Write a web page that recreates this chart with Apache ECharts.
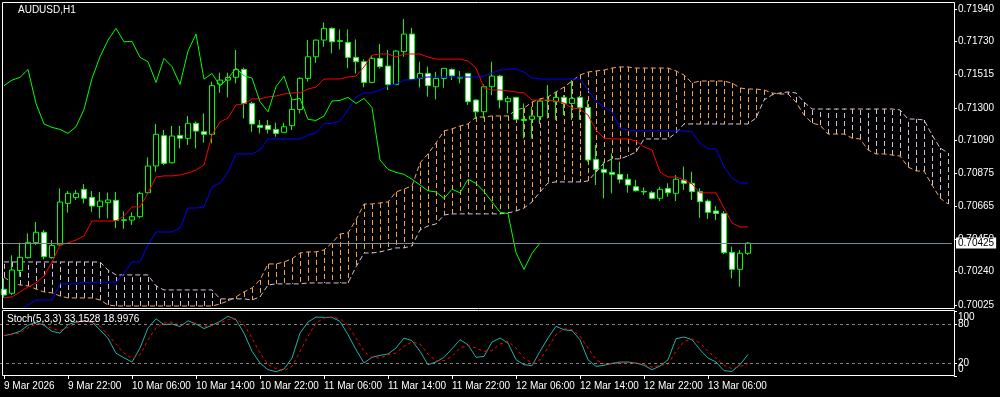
<!DOCTYPE html>
<html><head><meta charset="utf-8">
<script src="https://cdn.jsdelivr.net/npm/echarts@6/dist/echarts.min.js"></script>
<style>html,body{margin:0;padding:0;background:#000;}#c{width:1000px;height:397px;}</style>
</head><body><div id="c"></div>
<script>
const symbolTitle = 'AUDUSD,H1';
const timeTickLabels = ['9 Mar 2026','9 Mar 22:00','10 Mar 06:00','10 Mar 14:00','10 Mar 22:00','11 Mar 06:00','11 Mar 14:00','11 Mar 22:00','12 Mar 06:00','12 Mar 14:00','12 Mar 22:00','13 Mar 06:00'];
const priceTicks = [0.71940,0.71730,0.71515,0.71300,0.71090,0.70875,0.70665,0.70450,0.70240,0.70025];
const stochLevelTicks = [20,80];
const stochRangeTicks = [0,100];

const opens = [0.70126,0.70100,0.70247,0.70331,0.70428,0.70495,0.70331,0.70413,0.70682,0.70719,
0.70773,0.70721,0.70661,0.70687,0.70702,0.70572,0.70574,0.70596,0.70751,0.70924,
0.71120,0.70945,0.71122,0.71103,0.71200,0.71146,0.71129,0.71454,0.71480,0.71498,
0.71549,0.71329,0.71187,0.71187,0.71161,0.71142,0.71185,0.71290,0.71491,0.71631,
0.71739,0.71815,0.71735,0.71724,0.71627,0.71599,0.71465,0.71621,0.71571,0.71452,
0.71664,0.71778,0.71491,0.71523,0.71437,0.71491,0.71549,0.71498,0.71523,0.71351,
0.71275,0.71437,0.71506,0.71340,0.71368,0.71226,0.71226,0.71243,0.71347,0.71340,
0.71368,0.71329,0.71368,0.71303,0.70967,0.70902,0.70883,0.70870,0.70838,0.70790,
0.70760,0.70751,0.70715,0.70779,0.70747,0.70833,0.70812,0.70758,0.70697,0.70633,
0.70617,0.70365,0.70255,0.70359];
const highs = [0.70197,0.70346,0.70428,0.70488,0.70562,0.70510,0.70445,0.70779,0.70762,0.70769,
0.70807,0.70762,0.70756,0.70753,0.70756,0.70630,0.70624,0.70758,0.70980,0.71196,
0.71157,0.71183,0.71183,0.71247,0.71211,0.71265,0.71470,0.71528,0.71528,0.71675,
0.71560,0.71340,0.71222,0.71222,0.71204,0.71204,0.71355,0.71498,0.71739,0.71743,
0.71853,0.71821,0.71808,0.71808,0.71743,0.71614,0.71642,0.71713,0.71675,0.71675,
0.71875,0.71817,0.71599,0.71567,0.71534,0.71556,0.71556,0.71539,0.71528,0.71355,
0.71452,0.71599,0.71513,0.71377,0.71372,0.71329,0.71308,0.71351,0.71448,0.71405,
0.71383,0.71480,0.71377,0.71351,0.71060,0.70952,0.71006,0.70952,0.70872,0.70833,
0.70786,0.70762,0.70790,0.70812,0.70866,0.70920,0.70887,0.70779,0.70708,0.70665,
0.70633,0.70402,0.70380,0.70432];
const lows = [0.70072,0.70089,0.70208,0.70324,0.70413,0.70320,0.70324,0.70406,0.70622,0.70704,
0.70682,0.70628,0.70585,0.70585,0.70523,0.70518,0.70542,0.70585,0.70743,0.70887,
0.70930,0.70941,0.71038,0.71060,0.71038,0.71075,0.71071,0.71398,0.71368,0.71459,
0.71232,0.71146,0.71135,0.71135,0.71114,0.71140,0.71157,0.71265,0.71470,0.71592,
0.71696,0.71653,0.71679,0.71556,0.71523,0.71433,0.71459,0.71556,0.71416,0.71452,
0.71631,0.71480,0.71433,0.71372,0.71355,0.71431,0.71480,0.71459,0.71319,0.71228,
0.71232,0.71383,0.71297,0.71265,0.71222,0.71103,0.71103,0.71196,0.71232,0.71222,
0.71254,0.71222,0.71222,0.70952,0.70801,0.70715,0.70747,0.70812,0.70751,0.70758,
0.70736,0.70708,0.70697,0.70725,0.70697,0.70769,0.70704,0.70589,0.70581,0.70574,
0.70354,0.70197,0.70143,0.70348];
const closes = [0.70089,0.70251,0.70333,0.70430,0.70495,0.70337,0.70410,0.70691,0.70747,0.70747,
0.70715,0.70665,0.70697,0.70704,0.70572,0.70576,0.70596,0.70747,0.70924,0.71129,
0.70941,0.71118,0.71103,0.71200,0.71150,0.71129,0.71444,0.71480,0.71498,0.71549,
0.71329,0.71196,0.71174,0.71161,0.71135,0.71178,0.71290,0.71491,0.71631,0.71739,
0.71815,0.71728,0.71731,0.71627,0.71599,0.71465,0.71621,0.71567,0.71452,0.71668,
0.71778,0.71486,0.71523,0.71444,0.71491,0.71556,0.71508,0.71493,0.71340,0.71275,
0.71437,0.71506,0.71351,0.71362,0.71226,0.71219,0.71247,0.71344,0.71349,0.71368,
0.71329,0.71362,0.71303,0.70963,0.70902,0.70883,0.70870,0.70838,0.70801,0.70764,
0.70756,0.70715,0.70773,0.70751,0.70838,0.70812,0.70758,0.70693,0.70624,0.70617,
0.70363,0.70255,0.70359,0.70425];

const tenkan = [0.70070,0.70077,0.70109,0.70141,0.70167,0.70212,0.70303,0.70413,0.70426,0.70445,
0.70471,0.70568,0.70568,0.70568,0.70568,0.70601,0.70659,0.70659,0.70750,0.70853,
0.70860,0.70860,0.70866,0.70879,0.70898,0.70931,0.71125,0.71209,0.71235,0.71319,
0.71325,0.71358,0.71358,0.71371,0.71377,0.71390,0.71397,0.71397,0.71422,0.71435,
0.71487,0.71487,0.71487,0.71500,0.71506,0.71565,0.71642,0.71649,0.71649,0.71629,
0.71649,0.71649,0.71649,0.71629,0.71616,0.71616,0.71616,0.71616,0.71604,0.71558,
0.71429,0.71416,0.71416,0.71410,0.71403,0.71397,0.71351,0.71351,0.71351,0.71345,
0.71332,0.71299,0.71293,0.71254,0.71157,0.71105,0.71099,0.71099,0.71099,0.71086,
0.71047,0.71028,0.70885,0.70853,0.70853,0.70834,0.70808,0.70750,0.70750,0.70750,
0.70652,0.70555,0.70530,0.70530];
const kijun = [0.69970,0.69985,0.69993,0.70025,0.70057,0.70057,0.70057,0.70161,0.70161,0.70161,
0.70172,0.70172,0.70172,0.70172,0.70172,0.70232,0.70303,0.70303,0.70413,0.70497,
0.70497,0.70497,0.70523,0.70652,0.70652,0.70659,0.70788,0.70814,0.70885,0.71002,
0.71002,0.71002,0.71028,0.71099,0.71099,0.71099,0.71099,0.71099,0.71125,0.71138,
0.71196,0.71202,0.71215,0.71287,0.71371,0.71397,0.71397,0.71416,0.71442,0.71455,
0.71481,0.71481,0.71494,0.71500,0.71500,0.71500,0.71500,0.71500,0.71500,0.71500,
0.71506,0.71526,0.71545,0.71552,0.71552,0.71532,0.71494,0.71487,0.71487,0.71487,
0.71487,0.71487,0.71487,0.71416,0.71345,0.71306,0.71274,0.71170,0.71157,0.71151,
0.71151,0.71151,0.71151,0.71151,0.71151,0.71151,0.71144,0.71073,0.71034,0.71034,
0.70918,0.70847,0.70814,0.70814];
const senkouA = [0.70206,0.70167,0.70154,0.70148,0.70128,0.70109,0.70103,0.70083,0.70070,0.70070,
0.70070,0.70070,0.70057,0.70025,0.70018,0.70018,0.70018,0.70018,0.70018,0.70018,
0.70018,0.70018,0.70018,0.70018,0.70018,0.70018,0.70018,0.70031,0.70051,0.70077,
0.70109,0.70135,0.70187,0.70290,0.70290,0.70303,0.70323,0.70361,0.70368,0.70368,
0.70381,0.70426,0.70484,0.70491,0.70575,0.70678,0.70678,0.70685,0.70691,0.70756,
0.70775,0.70795,0.70944,0.71002,0.71073,0.71151,0.71164,0.71183,0.71196,0.71241,
0.71241,0.71248,0.71248,0.71248,0.71287,0.71299,0.71338,0.71358,0.71371,0.71403,
0.71435,0.71474,0.71513,0.71532,0.71539,0.71545,0.71558,0.71565,0.71565,0.71558,
0.71558,0.71558,0.71558,0.71558,0.71539,0.71513,0.71461,0.71474,0.71474,0.71474,
0.71474,0.71461,0.71429,0.71422,0.71422,0.71416,0.71397,0.71390,0.71390,0.71338,
0.71254,0.71202,0.71189,0.71131,0.71131,0.71131,0.71105,0.71099,0.71028,0.71002,
0.71002,0.70995,0.70989,0.70918,0.70892,0.70892,0.70801,0.70717,0.70678];
const senkouB = [0.70303,0.70303,0.70303,0.70303,0.70303,0.70303,0.70303,0.70303,0.70303,0.70303,
0.70303,0.70303,0.70303,0.70251,0.70219,0.70219,0.70219,0.70219,0.70219,0.70148,
0.70122,0.70122,0.70122,0.70122,0.70122,0.70122,0.70122,0.70064,0.70064,0.70064,
0.70064,0.70057,0.70077,0.70154,0.70161,0.70161,0.70161,0.70161,0.70167,0.70167,
0.70167,0.70167,0.70167,0.70167,0.70271,0.70361,0.70361,0.70368,0.70381,0.70394,
0.70394,0.70407,0.70510,0.70536,0.70549,0.70607,0.70614,0.70614,0.70614,0.70614,
0.70614,0.70614,0.70614,0.70620,0.70633,0.70652,0.70691,0.70756,0.70814,0.70821,
0.70821,0.70821,0.70821,0.70827,0.70885,0.70944,0.70970,0.70970,0.70989,0.71015,
0.71099,0.71099,0.71099,0.71099,0.71138,0.71196,0.71196,0.71196,0.71196,0.71196,
0.71196,0.71196,0.71196,0.71196,0.71235,0.71351,0.71384,0.71397,0.71403,0.71397,
0.71338,0.71293,0.71293,0.71293,0.71293,0.71293,0.71293,0.71293,0.71293,0.71293,
0.71293,0.71293,0.71287,0.71228,0.71228,0.71222,0.71125,0.71041,0.71008];

const stochMain = [62,64.6,68.7,78,83,78,68.7,66,79,83,
85,83,71,58,35,28,21.5,43,74,88,
79,80,76,85,80,73,78,84,91.8,86.6,
66,38,20,9.7,6.6,10.7,27.6,66,83,90.7,
90.2,90.2,84,63.5,40.5,20,28.7,31.8,33.8,43,
58.4,54.3,38,17.4,21.5,28.7,42,55.8,48,28.7,
30.2,52.3,58.4,50.7,25,17.4,15.9,38,58.4,76.4,
71.2,69.7,55.8,25,14.8,16.4,19.4,21.5,21.5,20,
16.4,9.7,15.3,25,57.4,60,55.8,40.5,27.6,21.5,
8.2,7.1,17.4,33.1528];
const stochSignal = [62.5,63.5,66,74,80,79,73,69.7,74.8,81.5,
84,83,76.4,63.5,49,35.3,26.6,32.8,55.8,74,
81.5,83,78,80,81.5,76.4,78,81.5,86.6,88,
79,58.4,35.3,17.4,11.2,8.2,14.8,38,61,81.5,
89.2,90.7,88,78,58.4,38,28.7,27.6,32.8,35.3,
45.6,52.3,49.2,33.8,23.5,23.5,30.2,43,47.1,43,
38,39,49.2,53.3,43,27.6,20,25,44,63.5,
72.8,71.2,61,43,25,18.4,18.4,20,21,20,
17.4,13.3,16.4,18.4,38,53.3,56.9,50.7,38,27.6,
16.4,11.2,14.8,18.9976];

const chikouShift = 26;
const slotCount = senkouA.length;
const categories = Array.from({length: slotCount}, (_, i) => String(i));
const chikou = closes.slice(chikouShift);
const FONT = "'Liberation Sans', Arial, sans-serif";

const chart = echarts.init(document.getElementById('c'), null, {renderer: 'canvas'});
const isTick = (idx) => idx % 8 === 0 && idx / 8 < timeTickLabels.length;
const lbl = {color: '#fff', fontSize: 10, fontFamily: FONT};

chart.setOption({
  backgroundColor: '#000',
  animation: false,
  title: [
    {text: symbolTitle, left: 18, top: 5, padding: 0,
     textStyle: Object.assign({fontWeight: 'normal'}, lbl)},
    {text: 'Stoch(5,3,3) ' + stochMain[stochMain.length-1].toFixed(4) + ' ' + stochSignal[stochSignal.length-1].toFixed(4),
     left: 7, top: 314, padding: 0,
     textStyle: Object.assign({fontWeight: 'normal'}, lbl)}
  ],
  grid: [
    {left: 0, width: 952, top: 3, height: 305, outerBoundsMode: 'none', containLabel: false},
    {left: 0, width: 952, top: 311, height: 65, outerBoundsMode: 'none', containLabel: false}
  ],
  xAxis: [
    {type: 'category', gridIndex: 0, data: categories, boundaryGap: true, show: false},
    {type: 'category', gridIndex: 1, data: categories, boundaryGap: true,
     axisLine: {show: false},
     axisTick: {show: true, alignWithLabel: true, interval: isTick, length: 3, lineStyle: {color: '#fff'}},
     axisLabel: Object.assign({show: true, interval: isTick, align: 'left', margin: 5,
       formatter: (v, idx) => timeTickLabels[Math.round(idx / 8)] || ''}, lbl),
     splitLine: {show: false}}
  ],
  yAxis: [
    {type: 'value', gridIndex: 0, position: 'right', offset: 2, min: 0.70005, max: 0.71979,
     splitLine: {show: false}, axisLine: {show: false},
     axisTick: {show: true, length: 3, lineStyle: {color: '#fff'}, customValues: priceTicks},
     axisLabel: Object.assign({show: true, showMinLabel: true, showMaxLabel: true, customValues: priceTicks,
       formatter: v => v.toFixed(5), margin: 4}, lbl)},
    {type: 'value', gridIndex: 1, position: 'right', offset: 2, min: 0, max: 100,
     splitLine: {show: false}, axisLine: {show: false},
     axisTick: {show: true, length: 3, lineStyle: {color: '#fff'}, customValues: stochRangeTicks.concat(stochLevelTicks)},
     axisLabel: Object.assign({show: true, showMinLabel: true, showMaxLabel: true,
       customValues: stochLevelTicks, margin: 4, formatter: v => String(v)}, lbl)},
    {type: 'value', gridIndex: 1, position: 'right', offset: 2, min: 0, max: 100,
     splitLine: {show: false}, axisLine: {show: false}, axisTick: {show: false},
     axisLabel: Object.assign({show: true, showMinLabel: true, showMaxLabel: true,
       customValues: stochRangeTicks, margin: 4,
       formatter: v => v === 100 ? '{t|100}' : '{b|0}',
       rich: {t: Object.assign({padding: [13, 0, 0, 0]}, lbl), b: Object.assign({padding: [0, 0, 13, 0]}, lbl)}}, lbl)}
  ],
  series: [
    {name: 'Kumo', type: 'custom', xAxisIndex: 0, yAxisIndex: 0, z: 1, clip: true, silent: true,
     data: senkouA.map((a, i) => [i, a, senkouB[i]]),
     encode: {x: 0, y: [1, 2]},
     renderItem: (params, api) => {
       const i = api.value(0), a = api.value(1), b = api.value(2);
       const pa = api.coord([i, a]), pb = api.coord([i, b]);
       const x = Math.round(pa[0]) + 0.5;
       return {type: 'line', shape: {x1: x, y1: pa[1], x2: x, y2: pb[1]},
         style: {stroke: a > b ? '#f4a460' : '#d8bfd8', lineWidth: 1, lineDash: [5, 3]}};
     }},
    {name: 'Senkou A', type: 'line', xAxisIndex: 0, yAxisIndex: 0, data: senkouA, z: 2, symbol: 'none',
     lineStyle: {color: '#f4a460', width: 1, type: [5, 3]}, silent: true},
    {name: 'Senkou B', type: 'line', xAxisIndex: 0, yAxisIndex: 0, data: senkouB, z: 2, symbol: 'none',
     lineStyle: {color: '#d8bfd8', width: 1, type: [5, 3]}, silent: true},
    {name: 'AUDUSD', type: 'candlestick', xAxisIndex: 0, yAxisIndex: 0, z: 3, barWidth: 5,
     data: opens.map((o, i) => [o, closes[i], lows[i], highs[i]]),
     itemStyle: {color: '#000', color0: '#fff', borderColor: '#00ff00', borderColor0: '#00ff00', borderWidth: 1},
     markLine: {silent: true, symbol: ['none', 'none'], precision: 5,
       lineStyle: {color: '#778899', width: 1, type: 'solid'},
       label: {show: true, position: 'end', distance: 4, formatter: p => Number(p.value).toFixed(5),
         backgroundColor: '#fff', color: '#000', fontSize: 10, fontFamily: FONT, padding: [1, 2, 0, 2]},
       data: [{yAxis: closes[closes.length - 1]}]}},
    {name: 'Tenkan', type: 'line', xAxisIndex: 0, yAxisIndex: 0, data: tenkan, z: 4, symbol: 'none',
     lineStyle: {color: '#ff0000', width: 1}, silent: true},
    {name: 'Kijun', type: 'line', xAxisIndex: 0, yAxisIndex: 0, data: kijun, z: 4, symbol: 'none',
     lineStyle: {color: '#0000ff', width: 1}, silent: true},
    {name: 'Chikou', type: 'line', xAxisIndex: 0, yAxisIndex: 0, data: chikou, z: 4, symbol: 'none',
     lineStyle: {color: '#00ff00', width: 1}, silent: true},
    {name: 'Stoch', type: 'line', xAxisIndex: 1, yAxisIndex: 1, data: stochMain, z: 4, symbol: 'none',
     lineStyle: {color: '#20b2aa', width: 1}, silent: true,
     markLine: {silent: true, symbol: ['none', 'none'], label: {show: false},
       lineStyle: {color: '#808080', width: 1, type: [3, 3]},
       data: [{yAxis: 20}, {yAxis: 80}]}},
    {name: 'Signal', type: 'line', xAxisIndex: 1, yAxisIndex: 1, data: stochSignal, z: 4, symbol: 'none',
     lineStyle: {color: '#ff0000', width: 1, type: [3, 3]}, silent: true}
  ],
  graphic: [
    {type: 'rect', silent: true, z: 100, shape: {x: 2.5, y: 2.5, width: 952, height: 306},
     style: {fill: 'none', stroke: '#fff', lineWidth: 1}},
    {type: 'rect', silent: true, z: 100, shape: {x: 2.5, y: 310.5, width: 952, height: 65},
     style: {fill: 'none', stroke: '#fff', lineWidth: 1}}
  ]
});
</script>
</body></html>
